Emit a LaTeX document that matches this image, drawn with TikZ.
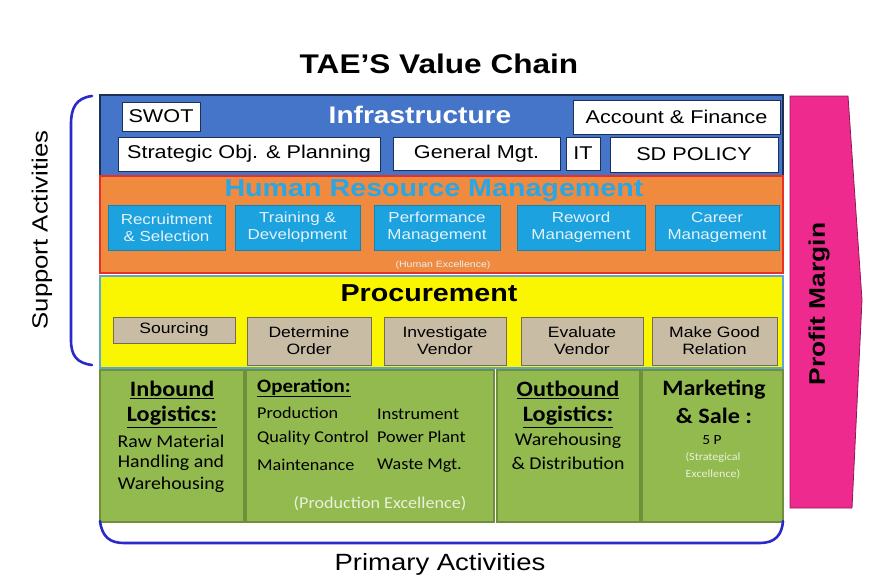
\documentclass[tikz,border=0pt]{standalone}
\usepackage{fontspec}
\setmainfont[FakeStretch=1.17]{Liberation Sans}
\newfontfamily\carfont[FakeStretch=1.1]{Carlito}
\newcommand{\fsz}[1]{\fontsize{#1}{\fpeval{1.15*#1}}\selectfont}
\definecolor{infrablue}{HTML}{4475C8}
\definecolor{infraedge}{HTML}{1E2F58}
\definecolor{hrorange}{HTML}{F08A3E}
\definecolor{hredge}{HTML}{E8302A}
\definecolor{hrblue}{HTML}{1CA2DE}
\definecolor{hrtitle}{HTML}{2AA6E4}
\definecolor{procyellow}{HTML}{FAF500}
\definecolor{procedge}{HTML}{5BA8D8}
\definecolor{tan}{HTML}{C8BCA5}
\definecolor{tanedge}{HTML}{7A6A50}
\definecolor{primgreen}{HTML}{93BA4E}
\definecolor{primedge}{HTML}{6F8F3A}
\definecolor{pink}{HTML}{EE2A8F}
\definecolor{brkblue}{HTML}{2A2AC8}
\definecolor{hrtext}{HTML}{E4F2FA}
\begin{document}
\begin{tikzpicture}[x=1pt,y=-1pt,
  band/.style={draw, rectangle, inner sep=0pt},
  wbox/.style={draw=infraedge, line width=1pt, fill=white, rectangle, inner sep=0pt, font=\fsz{18.5}},
  hbox/.style={draw=hrblue!80!black, line width=0.4pt, fill=hrblue, rectangle, inner sep=0pt, align=center, text=hrtext, font=\fsz{14.5}},
  tbox/.style={draw=tanedge, line width=1pt, fill=tan, rectangle, inner sep=0pt, align=center, font=\fsz{15}},
  gbox/.style={draw=primedge, line width=1.2pt, fill=primgreen, rectangle, inner sep=0pt},
  ghead/.style={inner sep=0pt, font=\carfont\bfseries\fsz{22}},
  gtxt/.style={inner sep=0pt, font=\carfont\fsz{18}},
  otxt/.style={inner sep=0pt, anchor=west, font=\carfont\fsz{16.5}},
  faint/.style={inner sep=0pt, font=\carfont\fsz{11}, text=white!80!primgreen},
  brk/.style={draw=brkblue, line width=2.6pt, line cap=round},
]
\useasboundingbox (0,0) rectangle (874,581);
% title
\node[font=\bfseries\fsz{27}] (title) at (439,64) {TAE'S Value Chain};
% infrastructure
\node[band, draw=infraedge, line width=2pt, fill=infrablue, minimum width=683pt, minimum height=81pt] (infra) at (441.5,135.5) {};
\node[font=\bfseries\fsz{24}, text=white] (infratitle) at (420,115) {Infrastructure};
\node[wbox, minimum width=78pt, minimum height=29pt] (swot) at (161,116.5) {SWOT};
\node[wbox, minimum width=207pt, minimum height=34pt] (acc) at (676.5,117) {Account \& Finance};
\node[wbox, minimum width=262pt, minimum height=34pt] (strat) at (249,154) {Strategic Obj. \& Planning};
\node[wbox, minimum width=167pt, minimum height=33pt] (gen) at (476.5,153.5) {General Mgt.};
\node[wbox, minimum width=34pt, minimum height=33pt] (it) at (583,153.5) {IT};
\node[wbox, minimum width=168pt, minimum height=35pt] (sdp) at (694,154.5) {SD POLICY};
% HRM
\node[band, draw=hredge, line width=2pt, fill=hrorange, minimum width=683pt, minimum height=97pt] (hrm) at (441.5,224.5) {};
\node[font=\bfseries\fsz{24.5}, text=hrtitle] (hrmtitle) at (434,191) {Human Resource Management};
\node[hbox, minimum width=117pt, minimum height=45pt] (h1) at (166.5,227.5) {Recruitment\\\& Selection};
\node[hbox, minimum width=125pt, minimum height=45pt] (h2) at (297.5,227.5) {Training \&\\Development};
\node[hbox, minimum width=126pt, minimum height=45pt] (h3) at (437,227.5) {Performance\\Management};
\node[hbox, minimum width=128pt, minimum height=45pt] (h4) at (581,227.5) {Reword\\Management};
\node[hbox, minimum width=124pt, minimum height=45pt] (h5) at (717,227.5) {Career\\Management};
\node[font=\fsz{9}, text=hrtext] (hrex) at (443,265) {(Human Excellence)};
% procurement
\node[band, draw=procedge, line width=1.5pt, fill=procyellow, minimum width=683pt, minimum height=92pt] (proc) at (441.5,322) {};
\node[font=\bfseries\fsz{24.5}] (proctitle) at (429,293) {Procurement};
\node[tbox, minimum width=122pt, minimum height=26pt] (p1) at (174,330) {Sourcing};
\node[tbox, minimum width=124pt, minimum height=48pt] (p2) at (309,341) {Determine\\Order};
\node[tbox, minimum width=122pt, minimum height=48pt] (p3) at (445,341) {Investigate\\Vendor};
\node[tbox, minimum width=122pt, minimum height=48pt] (p4) at (582,341) {Evaluate\\Vendor};
\node[tbox, minimum width=125pt, minimum height=48pt] (p5) at (714.5,341) {Make Good\\Relation};
% primary
\node[gbox, minimum width=144pt, minimum height=152pt] (g1) at (172,446) {};
\node[gbox, minimum width=248pt, minimum height=152pt] (g2) at (370,446) {};
\node[gbox, minimum width=143pt, minimum height=152pt] (g3) at (568.5,446) {};
\node[gbox, minimum width=141pt, minimum height=152pt] (g4) at (712.5,446) {};
\node[ghead] (in1) at (172,390) {\underline{Inbound}};
\node[ghead] (in2) at (172,417) {\underline{Logistics:}};
\node[gtxt] (in3) at (171,441) {Raw Material};
\node[gtxt] (in4) at (171,463) {Handling and};
\node[gtxt] (in5) at (171,485) {Warehousing};
\node[ghead, anchor=west, font=\carfont\bfseries\fsz{19}] (op1) at (257,388) {\underline{Operation:}};
\node[otxt] (op2) at (257,413) {Production};
\node[otxt] (op3) at (377,414) {Instrument};
\node[otxt] (op4) at (257,438) {Quality Control};
\node[otxt] (op5) at (377,437) {Power Plant};
\node[otxt] (op6) at (257,465) {Maintenance};
\node[otxt] (op7) at (377,466) {Waste Mgt.};
\node[faint, font=\carfont\fsz{16.5}] (op8) at (380,504) {(Production Excellence)};
\node[ghead] (out1) at (568,390) {\underline{Outbound}};
\node[ghead] (out2) at (568,417) {\underline{Logistics:}};
\node[gtxt] (out3) at (568,441) {Warehousing};
\node[gtxt] (out4) at (568,463) {\& Distribution};
\node[ghead] (mk1) at (714,390) {Marketing};
\node[ghead] (mk2) at (714,416) {\& Sale :};
\node[gtxt, font=\carfont\fsz{14}] (mk3) at (712,440) {5 P};
\node[faint] (mk4) at (713,457) {(Strategical};
\node[faint] (mk5) at (713,474) {Excellence)};
% profit margin arrow
\fill[pink, draw=pink!60!black, line width=0.8pt] (790,96) -- (848,96) -- (862,300) -- (852,508) -- (790,508) -- cycle;
\node[font=\bfseries\fsz{22.5}, rotate=90] (pm) at (819,304) {Profit Margin};
% brackets
\draw[brk] (92,96) .. controls (76,98) and (71,108) .. (71,124) -- (71,340) .. controls (71,356) and (77,363) .. (92,365);
\node[font=\fsz{22}, rotate=90] (sa) at (42,230) {Support Activities};
\draw[brk] (100,521) .. controls (102,537) and (110,543) .. (124,543) -- (760,543) .. controls (775,543) and (782,535) .. (783,521);
\node[font=\fsz{23.5}] (pa) at (440,564) {Primary Activities};
\end{tikzpicture}
\end{document}
